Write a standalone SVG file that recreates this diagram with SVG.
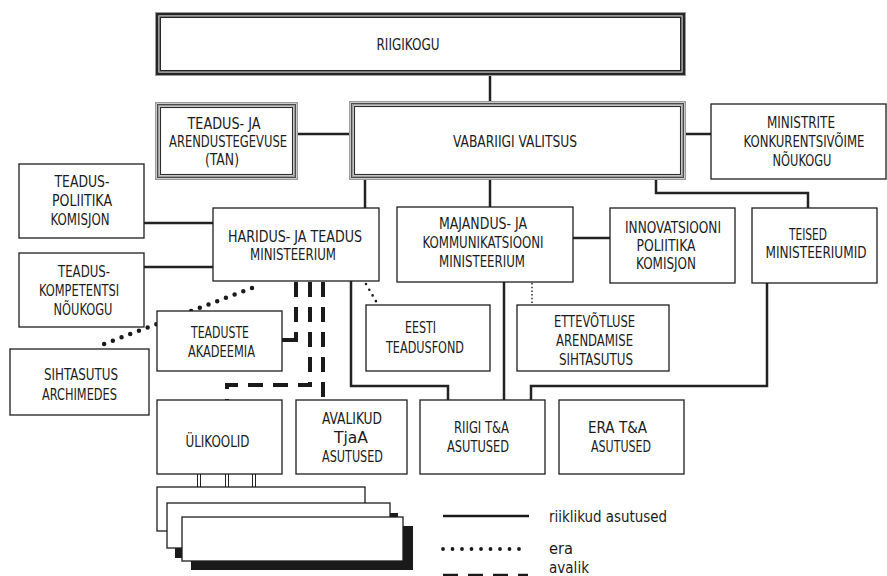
<svg xmlns="http://www.w3.org/2000/svg" width="887" height="576" viewBox="0 0 887 576">
<defs>
<style>
.bg{fill:#ffffff}
.b{fill:#ffffff;stroke:#1e1e1e;stroke-width:1.3}
.ga{fill:none;stroke:#9a9a9a;stroke-width:1.5}
.gb{fill:none;stroke:#4a4a4a;stroke-width:1}
.gc{fill:none;stroke:#2e2e2e;stroke-width:1.1}
.ra{fill:none;stroke:#9a9a9a;stroke-width:1}
.rb{fill:none;stroke:#262626;stroke-width:2.5}
.rc{fill:none;stroke:#262626;stroke-width:1.5}
.sh{fill:#1a1a1a}
.t{font-family:"DejaVu Sans Condensed","DejaVu Sans",sans-serif;font-stretch:condensed;font-size:16px;fill:#1b1b1b;text-anchor:middle}
.t2{font-size:15px}
.lt{font-family:"DejaVu Sans Condensed","DejaVu Sans",sans-serif;font-stretch:condensed;font-size:16px;fill:#1b1b1b;text-anchor:start}
.c{fill:none;stroke:#222;stroke-width:2.5}
.dash{fill:none;stroke:#1a1a1a;stroke-width:4;stroke-dasharray:15 10}
.dot{fill:none;stroke:#1a1a1a;stroke-width:4.5;stroke-linecap:round;stroke-dasharray:0 9.3}
.sdot{fill:none;stroke:#1a1a1a;stroke-width:2.6;stroke-linecap:round;stroke-dasharray:0 6.6}
.fdot{fill:none;stroke:#333;stroke-width:1.6;stroke-dasharray:1.5 2.2}
.thin{fill:none;stroke:#222;stroke-width:1}
</style>
</defs>
<rect class="bg" x="0" y="0" width="887" height="576"/>

<g id="connectors">
<path class="c" d="M490,76 V101"/>
<path class="c" d="M298,134 H349"/>
<path class="c" d="M686,134 H711"/>
<path class="c" d="M365,180 V208"/>
<path class="c" d="M490,180 V207"/>
<path class="c" d="M656,180 V193 H808 V208"/>
<path class="c" d="M144,223 H213"/>
<path class="c" d="M144,267 H213"/>
<path class="c" d="M573,238 H610"/>
<path class="c" d="M351,281 V386 H448 V400"/>
<path class="c" d="M504,282 V400"/>
<path class="c" d="M767,283 V386 H531 V400"/>
<path class="dot" d="M252,288 L104,344"/>
<path class="sdot" d="M366,284 L377,303"/>
<path class="fdot" d="M532,283 V305"/>
<path class="dash" d="M296,282 V342"/>
<path d="M282,340 H298" fill="none" stroke="#1a1a1a" stroke-width="4"/>
<path class="dash" d="M310,282 V385 H227 V400"/>
<path class="dash" d="M323,282 V400"/>
<path class="thin" d="M197.5,474 V487 M200.5,474 V487 M225.5,474 V487 M228.5,474 V487 M252.5,474 V487 M255.5,474 V487"/>
</g>

<g id="riigikogu">
<rect x="155.5" y="12.5" width="530" height="63" fill="#fff" class="ra"/>
<rect x="157.25" y="14.25" width="526.5" height="59.5" class="rb"/>
<rect x="159" y="16" width="523" height="56" class="ra"/>
<rect x="160.25" y="17.25" width="520.5" height="53.5" class="rc"/>
<text class="t" x="408" y="50" textLength="63" lengthAdjust="spacingAndGlyphs">RIIGIKOGU</text>
</g>

<g id="tan">
<rect x="155.75" y="102.75" width="141.5" height="76.5" fill="#fff" class="ga"/>
<rect x="157.5" y="104.5" width="138" height="73" class="gb"/>
<rect x="158.75" y="105.75" width="135.5" height="70.5" class="ga"/>
<rect x="160.5" y="107.5" width="132" height="67" class="gc"/>
<text class="t" x="224" y="129" textLength="73" lengthAdjust="spacingAndGlyphs">TEADUS- JA</text>
<text class="t" x="228" y="147" textLength="118" lengthAdjust="spacingAndGlyphs">ARENDUSTEGEVUSE</text>
<text class="t" x="222" y="165" textLength="34" lengthAdjust="spacingAndGlyphs">(TAN)</text>
</g>

<g id="valitsus">
<rect x="349.75" y="101.75" width="335.5" height="77.5" fill="#fff" class="ga"/>
<rect x="351.5" y="103.5" width="332" height="74" class="gb"/>
<rect x="352.75" y="104.75" width="329.5" height="71.5" class="ga"/>
<rect x="354.5" y="106.5" width="326" height="68" class="gc"/>
<text class="t" x="515" y="147" textLength="124" lengthAdjust="spacingAndGlyphs">VABARIIGI VALITSUS</text>
</g>

<g id="ministrite">
<rect class="b" x="711" y="104" width="175" height="75"/>
<text class="t t2" x="801" y="128" textLength="68" lengthAdjust="spacingAndGlyphs">MINISTRITE</text>
<text class="t t2" x="804" y="147" textLength="121" lengthAdjust="spacingAndGlyphs">KONKURENTSIVÕIME</text>
<text class="t t2" x="802" y="166" textLength="59" lengthAdjust="spacingAndGlyphs">NÕUKOGU</text>
</g>

<g id="poliitika">
<rect class="b" x="19" y="164" width="125" height="74"/>
<text class="t" x="82" y="187" textLength="55" lengthAdjust="spacingAndGlyphs">TEADUS-</text>
<text class="t" x="82" y="206" textLength="60" lengthAdjust="spacingAndGlyphs">POLIITIKA</text>
<text class="t" x="80" y="225" textLength="59" lengthAdjust="spacingAndGlyphs">KOMISJON</text>
</g>

<g id="kompetents">
<rect class="b" x="19" y="253" width="125" height="74"/>
<text class="t" x="84" y="277" textLength="52" lengthAdjust="spacingAndGlyphs">TEADUS-</text>
<text class="t" x="79" y="296" textLength="80" lengthAdjust="spacingAndGlyphs">KOMPETENTSI</text>
<text class="t" x="83" y="315" textLength="59" lengthAdjust="spacingAndGlyphs">NÕUKOGU</text>
</g>

<g id="haridus">
<rect class="b" x="213" y="208" width="166" height="73"/>
<text class="t" x="295" y="242" textLength="134" lengthAdjust="spacingAndGlyphs">HARIDUS- JA TEADUS</text>
<text class="t" x="293" y="260" textLength="86" lengthAdjust="spacingAndGlyphs">MINISTEERIUM</text>
</g>

<g id="majandus">
<rect class="b" x="397" y="207" width="176" height="75"/>
<text class="t" x="483" y="229" textLength="88" lengthAdjust="spacingAndGlyphs">MAJANDUS- JA</text>
<text class="t" x="483" y="248" textLength="121" lengthAdjust="spacingAndGlyphs">KOMMUNIKATSIOONI</text>
<text class="t" x="482" y="267" textLength="86" lengthAdjust="spacingAndGlyphs">MINISTEERIUM</text>
</g>

<g id="innovatsioon">
<rect class="b" x="610" y="208" width="125" height="75"/>
<text class="t" x="673" y="233" textLength="96" lengthAdjust="spacingAndGlyphs">INNOVATSIOONI</text>
<text class="t" x="666" y="251" textLength="59" lengthAdjust="spacingAndGlyphs">POLIITIKA</text>
<text class="t" x="666" y="269" textLength="60" lengthAdjust="spacingAndGlyphs">KOMISJON</text>
</g>

<g id="teised">
<rect class="b" x="752" y="208" width="125" height="75"/>
<text class="t" x="808" y="240" textLength="38" lengthAdjust="spacingAndGlyphs">TEISED</text>
<text class="t" x="816" y="258" textLength="101" lengthAdjust="spacingAndGlyphs">MINISTEERIUMID</text>
</g>

<g id="akadeemia">
<rect class="b" x="157" y="311" width="125" height="60"/>
<text class="t" x="220" y="338" textLength="58" lengthAdjust="spacingAndGlyphs">TEADUSTE</text>
<text class="t" x="221.5" y="357" textLength="67" lengthAdjust="spacingAndGlyphs">AKADEEMIA</text>
</g>

<g id="archimedes">
<rect class="b" x="10" y="349" width="139" height="66"/>
<text class="t" x="81" y="380" textLength="74" lengthAdjust="spacingAndGlyphs">SIHTASUTUS</text>
<text class="t" x="79.5" y="400" textLength="75" lengthAdjust="spacingAndGlyphs">ARCHIMEDES</text>
</g>

<g id="teadusfond">
<rect class="b" x="366" y="305" width="124" height="66"/>
<text class="t" x="420.5" y="333" textLength="31" lengthAdjust="spacingAndGlyphs">EESTI</text>
<text class="t" x="425" y="353" textLength="78" lengthAdjust="spacingAndGlyphs">TEADUSFOND</text>
</g>

<g id="ettevotlus">
<rect class="b" x="517" y="305" width="152" height="66"/>
<text class="t" x="594.5" y="327" textLength="81" lengthAdjust="spacingAndGlyphs">ETTEVÕTLUSE</text>
<text class="t" x="594.5" y="346" textLength="77" lengthAdjust="spacingAndGlyphs">ARENDAMISE</text>
<text class="t" x="596" y="365" textLength="74" lengthAdjust="spacingAndGlyphs">SIHTASUTUS</text>
</g>

<g id="ulikoolid">
<rect class="b" x="157" y="400" width="125" height="74"/>
<text class="t" x="217.5" y="447" textLength="64" lengthAdjust="spacingAndGlyphs">ÜLIKOOLID</text>
</g>

<g id="avalikud">
<rect class="b" x="296" y="400" width="111" height="74"/>
<text class="t" x="352" y="424" textLength="60" lengthAdjust="spacingAndGlyphs">AVALIKUD</text>
<text class="t" x="351" y="443" textLength="34" lengthAdjust="spacingAndGlyphs">TjaA</text>
<text class="t" x="352.5" y="462" textLength="61" lengthAdjust="spacingAndGlyphs">ASUTUSED</text>
</g>

<g id="riigi-ta">
<rect class="b" x="420" y="400" width="125" height="74"/>
<text class="t" x="481.5" y="433" textLength="55" lengthAdjust="spacingAndGlyphs">RIIGI T&amp;A</text>
<text class="t" x="478" y="452" textLength="62" lengthAdjust="spacingAndGlyphs">ASUTUSED</text>
</g>

<g id="era-ta">
<rect class="b" x="559" y="400" width="125" height="74"/>
<text class="t" x="617.5" y="433" textLength="59" lengthAdjust="spacingAndGlyphs">ERA T&amp;A</text>
<text class="t" x="621" y="452" textLength="60" lengthAdjust="spacingAndGlyphs">ASUTUSED</text>
</g>

<g id="stack">
<rect class="b" x="157" y="487" width="208" height="44"/>
<rect class="sh" x="175" y="513" width="223" height="45"/>
<rect class="b" x="167" y="503" width="223" height="45"/>
<rect class="sh" x="191" y="526" width="222" height="44"/>
<rect class="b" x="182" y="517" width="221" height="44"/>
</g>

<g id="legend">
<path d="M443,516 H529" fill="none" stroke="#1a1a1a" stroke-width="2.5"/>
<path d="M443,549 H521" fill="none" stroke="#1a1a1a" stroke-width="3.8" stroke-linecap="round" stroke-dasharray="0 9.5"/>
<path d="M443,575 H528" fill="none" stroke="#1a1a1a" stroke-width="2.5" stroke-dasharray="15 10"/>
<text class="lt" x="549" y="522" textLength="118" lengthAdjust="spacingAndGlyphs">riiklikud asutused</text>
<text class="lt" x="549" y="554" textLength="24" lengthAdjust="spacingAndGlyphs">era</text>
<text class="lt" x="549" y="573" textLength="40" lengthAdjust="spacingAndGlyphs">avalik</text>
</g>
</svg>
